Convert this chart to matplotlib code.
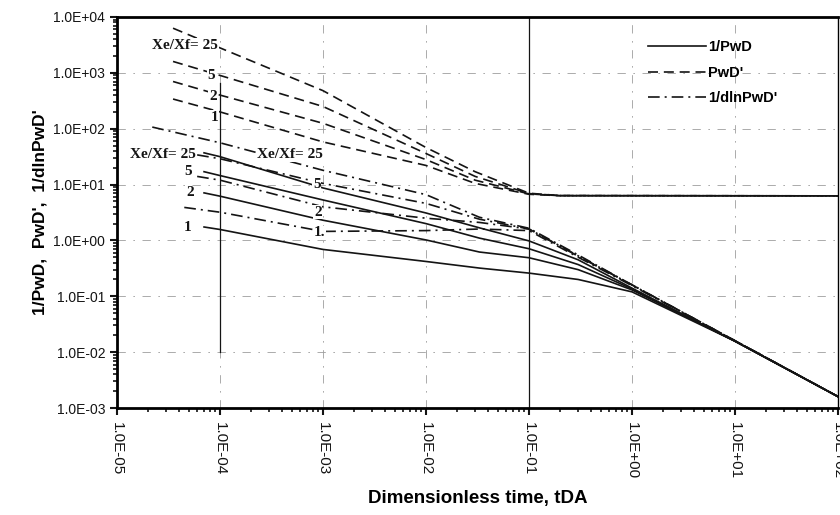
import numpy as np
import matplotlib
matplotlib.use('Agg')
import matplotlib.pyplot as plt
from matplotlib.ticker import LogLocator, FuncFormatter, NullFormatter

# values (log-log)
ratios = ['25', '5', '2', '1']

# PwD' (dashed)
t_pwd = [3.5e-5, 1e-4, 1e-3, 1e-2, 3e-2, 0.1, 0.2, 100]
pwd = {
    '25': [6300, 2800, 480, 46, 17, 7.0, 6.35, 6.28],
    '5': [1600, 900, 250, 36, 14, 6.9, 6.35, 6.28],
    '2': [700, 400, 125, 28, 12, 6.8, 6.33, 6.28],
    '1': [340, 200, 58, 22, 10.5, 6.7, 6.32, 6.28],
}

# 1/PwD (solid)
t_inv = [7e-5, 1e-4, 1e-3, 1e-2, 3.3e-2, 0.1, 0.3, 1, 10, 100]
inv_pwd = {
    '25': [37, 31.6, 8.7, 3.1, 1.68, 0.98, 0.45, 0.14, 0.0157, 0.0016],
    '5': [17, 14.5, 5.3, 2.0, 1.1, 0.71, 0.37, 0.135, 0.0157, 0.0016],
    '2': [7.1, 6.2, 2.3, 1.02, 0.62, 0.49, 0.30, 0.13, 0.0157, 0.0016],
    '1': [1.74, 1.57, 0.69, 0.42, 0.32, 0.26, 0.20, 0.12, 0.0157, 0.0016],
}

# 1/dlnPwD' (dash-dot)
t_dln = {
    '25': [2.2e-5, 1e-4, 1e-3, 1e-2, 3.3e-2, 0.1, 0.3, 1, 10, 100],
    '5': [6e-5, 1e-4, 1e-3, 1e-2, 3.3e-2, 0.1, 0.3, 1, 10, 100],
    '2': [6e-5, 1e-4, 1e-3, 1e-2, 3.3e-2, 0.1, 0.3, 1, 10, 100],
    '1': [4.5e-5, 1e-4, 1e-3, 1e-2, 3.3e-2, 0.1, 0.3, 1, 10, 100],
}
inv_dln = {
    '25': [107, 56, 18, 6.6, 2.6, 1.65, 0.55, 0.16, 0.016, 0.0016],
    '5': [34, 29, 10.5, 4.6, 2.4, 1.6, 0.53, 0.16, 0.016, 0.0016],
    '2': [14, 12, 4.0, 2.5, 2.1, 1.6, 0.52, 0.16, 0.016, 0.0016],
    '1': [3.9, 3.2, 1.45, 1.5, 1.6, 1.5, 0.5, 0.155, 0.016, 0.0016],
}

# curve labels (text, t, value)
pwd_labels = [('Xe/Xf= 25', 4.6e-5, 3100), ('5', 8.2e-5, 900), ('2', 8.5e-5, 370), ('1', 8.9e-5, 160)]
inv_labels = [('Xe/Xf= 25', 2.8e-5, 35), ('5', 4.9e-5, 17), ('2', 5.1e-5, 7.1), ('1', 4.9e-5, 1.68)]
dln_labels = [('Xe/Xf= 25', 4.8e-4, 34), ('5', 8.7e-4, 9.9), ('2', 8.9e-4, 3.2), ('1.', 9.3e-4, 1.37)]

ink = '#141414'

fig = plt.figure(figsize=(8.4, 5.15), dpi=100)
ax = fig.add_axes([117 / 840, (515 - 408) / 515, 721 / 840, 391 / 515])
ax.set_xscale('log')
ax.set_yscale('log')
ax.set_xlim(1e-5, 1e2)
ax.set_ylim(1e-3, 1e4)

# broken-looking grid from the scan
for v in [1e-2, 1e-1, 1e0, 1e1, 1e2, 1e3]:
    ax.axhline(v, color='0.62', lw=0.6, ls=(0, (10, 9, 2, 9)), zorder=0)
for v in [1e-4, 1e-3, 1e-2, 1e0, 1e1]:
    ax.axvline(v, color='0.62', lw=0.6, ls=(0, (10, 9, 2, 9)), zorder=0)
ax.axvline(1e-4, ymin=1 / 7, ymax=0.83, color=ink, lw=0.9, zorder=0)
ax.axvline(1e-1, color=ink, lw=0.9, zorder=0)

for i, r in enumerate(ratios):
    ax.plot(t_inv, inv_pwd[r], color=ink, lw=1.2, label='1/PwD' if i == 0 else None)
    ax.plot(t_pwd, pwd[r], color=ink, lw=1.2, dashes=(6, 3.5), dash_capstyle='butt',
            label="PwD'" if i == 0 else None)
    ax.plot(t_dln[r], inv_dln[r], color=ink, lw=1.2, dashes=(7, 3, 1.2, 3),
            label="1/dlnPwD'" if i == 0 else None)

box = dict(facecolor='white', edgecolor='none', pad=0.5)
for txt, x, y in pwd_labels + inv_labels + dln_labels:
    ax.text(x, y, txt, ha='center', va='center', fontsize=11, fontweight='bold',
            family='Liberation Serif', color=ink, bbox=box, zorder=5)

leg = ax.legend(loc='upper left', bbox_to_anchor=(0.7365, 0.94), frameon=False,
                borderaxespad=0, borderpad=0, handlelength=4.0, fontsize=10.5,
                labelspacing=0.78, handletextpad=0.1)
for t in leg.get_texts():
    t.set_family('Liberation Sans')
    t.set_fontweight('bold')

fmt = FuncFormatter(lambda v, pos: '%.1E' % v)
ax.xaxis.set_major_locator(LogLocator(base=10, numticks=20))
ax.yaxis.set_major_locator(LogLocator(base=10, numticks=20))
ax.xaxis.set_minor_locator(LogLocator(base=10, subs=np.arange(2, 10), numticks=20))
ax.yaxis.set_minor_locator(LogLocator(base=10, subs=np.arange(2, 10), numticks=20))
ax.xaxis.set_major_formatter(fmt)
ax.yaxis.set_major_formatter(fmt)
ax.xaxis.set_minor_formatter(NullFormatter())
ax.yaxis.set_minor_formatter(NullFormatter())
ax.tick_params(which='major', direction='out', length=5, width=1.5, labelsize=10,
               colors=ink, labelfontfamily='Liberation Sans')
ax.tick_params(which='minor', direction='out', length=3, width=1.2, colors=ink)
ax.tick_params(axis='x', which='major', labelrotation=-90, pad=5, labelsize=11)

for side in ['left', 'bottom', 'top']:
    ax.spines[side].set_linewidth(2)
ax.spines['right'].set_linewidth(1)

ax.set_xlabel('Dimensionless time, tDA', fontsize=13.5, fontweight='bold',
              family='Liberation Sans', labelpad=8)
ax.set_ylabel("1/PwD,  PwD',  1/dlnPwD'", fontsize=12.5, fontweight='bold',
              family='Liberation Sans', labelpad=4)

fig.savefig('out.png', dpi=100)
